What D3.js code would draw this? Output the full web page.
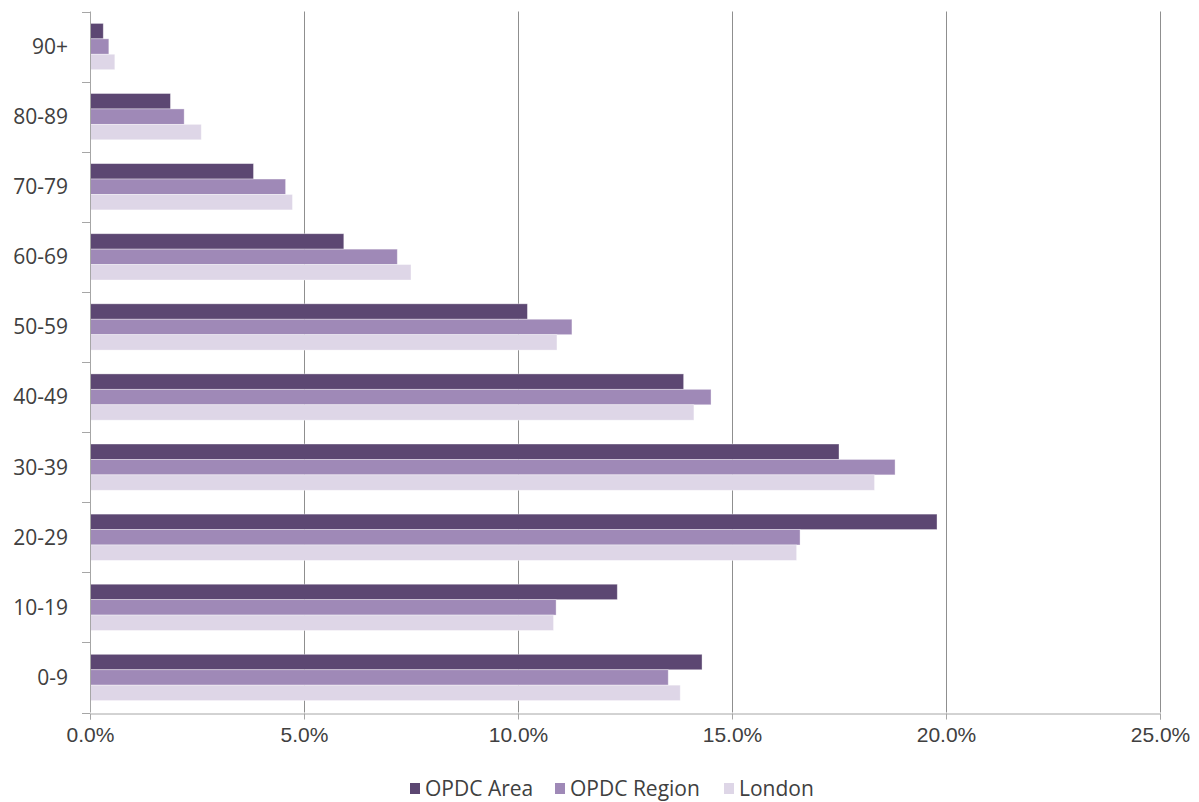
<!DOCTYPE html>
<html>
<head>
<meta charset="utf-8">
<script src="https://cdn.jsdelivr.net/npm/d3@7"></script>
<style>
  html, body { margin: 0; padding: 0; background: #fff; }
  svg { display: block; font-family: "Open Sans", "Noto Sans", sans-serif; }
</style>
</head>
<body>
<svg id="chart" width="1199" height="802"></svg>
<script>
// ---- Data ----
const categories = ["90+", "80-89", "70-79", "60-69", "50-59", "40-49", "30-39", "20-29", "10-19", "0-9"];
const seriesNames = ["OPDC Area", "OPDC Region", "London"];
const opdcArea   = [0.31, 1.88, 3.82, 5.93, 10.22, 13.87, 17.50, 19.79, 12.32, 14.30];
const opdcRegion = [0.44, 2.20, 4.57, 7.18, 11.26, 14.51, 18.81, 16.59, 10.89, 13.51];
const london     = [0.58, 2.60, 4.73, 7.50, 10.91, 14.11, 18.33, 16.51, 10.83, 13.79];
const xTicks = [0, 5, 10, 15, 20, 25];
const colors = ["#5c4772", "#9f89b7", "#ded6e7"];

const seriesValues = [opdcArea, opdcRegion, london];

// ---- Layout ----
const svg = d3.select("#chart");
const margin = { left: 90, right: 39, top: 11.5, bottom: 89.5 };
const W = 1199, H = 802;

const x = d3.scaleLinear().domain([0, 25]).range([margin.left, W - margin.right]);
const y = d3.scaleBand().domain(categories).range([margin.top, H - margin.bottom])
  .paddingInner(0.34).paddingOuter(0.17);
const ySub = d3.scaleBand().domain(seriesNames).range([0, y.bandwidth()]).padding(0);

const axisColor = "#a6a6a6";
const textColor = "#404040";

// gridlines
svg.append("g").selectAll("line").data(xTicks.filter(d => d > 0)).join("line")
  .attr("x1", d => Math.round(x(d)) + 0.5).attr("x2", d => Math.round(x(d)) + 0.5)
  .attr("y1", margin.top).attr("y2", H - margin.bottom)
  .attr("stroke", "#8f8f8f").attr("stroke-width", 1);

// bars
const rows = categories.map((c, i) => ({ cat: c, vals: seriesNames.map((s, j) => ({ s, j, v: seriesValues[j][i] })) }));
const g = svg.append("g");
g.selectAll("g.row").data(rows).join("g").attr("class", "row")
  .attr("transform", d => `translate(0,${y(d.cat)})`)
  .selectAll("rect").data(d => d.vals).join("rect")
  .attr("x", x(0))
  .attr("y", d => ySub(d.s))
  .attr("width", d => x(d.v) - x(0))
  .attr("height", ySub.bandwidth())
  .attr("fill", d => colors[d.j])
  .attr("stroke", "rgba(255,255,255,0.45)")
  .attr("stroke-width", 0.8);

// x axis
const xAxis = d3.axisBottom(x).tickValues(xTicks).tickFormat(d => d.toFixed(1) + "%").tickSize(6).tickPadding(8);
const gx = svg.append("g").attr("transform", `translate(0,${Math.round(H - margin.bottom) + 0.5})`).call(xAxis);
gx.select(".domain").attr("stroke", axisColor);
gx.selectAll(".tick line").attr("stroke", axisColor);
gx.selectAll(".tick text").attr("fill", textColor).attr("font-size", 21);

// y axis with ticks at category boundaries
const yAxisG = svg.append("g");
yAxisG.append("line")
  .attr("x1", x(0) + 0.5).attr("x2", x(0) + 0.5)
  .attr("y1", margin.top).attr("y2", H - margin.bottom)
  .attr("stroke", axisColor);
const step = y.step();
const boundaries = d3.range(categories.length + 1).map(i => margin.top + i * step);
yAxisG.selectAll("line.b").data(boundaries).join("line").attr("class", "b")
  .attr("x1", x(0) - 8).attr("x2", x(0))
  .attr("y1", d => Math.round(d) + 0.5).attr("y2", d => Math.round(d) + 0.5)
  .attr("stroke", axisColor);
yAxisG.selectAll("text").data(categories).join("text")
  .attr("x", x(0) - 22)
  .attr("y", d => y(d) + y.bandwidth() / 2)
  .attr("dy", "0.35em")
  .attr("text-anchor", "end")
  .attr("fill", textColor)
  .attr("font-size", 21)
  .text(d => d);

// legend
const legendItems = [
  { name: seriesNames[0], x: 410 },
  { name: seriesNames[1], x: 555 },
  { name: seriesNames[2], x: 724 }
];
const lg = svg.append("g");
legendItems.forEach((it, i) => {
  lg.append("rect").attr("x", it.x).attr("y", 783).attr("width", 10).attr("height", 11).attr("fill", colors[i]);
  lg.append("text").attr("x", it.x + 15).attr("y", 789).attr("dy", "0.35em")
    .attr("fill", textColor).attr("font-size", 21).text(it.name);
});
</script>
</body>
</html>
